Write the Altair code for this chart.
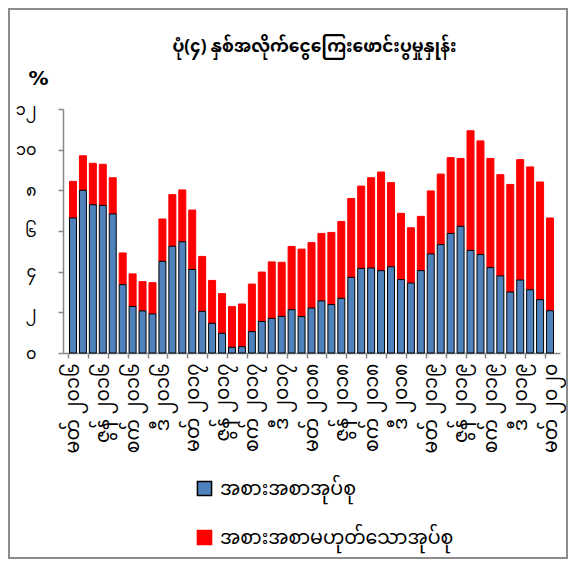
import altair as alt
import pandas as pd

# ---- data ----
months = ["မတ်", "ဇွန်", "စက်", "ဒီ"]
years = ["၂၀၁၆", "၂၀၁၇", "၂၀၁၈", "၂၀၁၉", "၂၀၂၀"]

# headline (top of red bar) and food contribution (top of blue bar), Mar 2016 .. Mar 2020
headline = [8.44, 9.70, 9.33, 9.28, 8.62, 4.92, 3.89, 3.51, 3.46, 6.59,
            7.79, 8.02, 7.03, 4.75, 3.57, 2.92, 2.28, 2.41, 3.39, 3.98,
            4.48, 4.46, 5.24, 5.11, 5.43, 5.88, 5.93, 6.47, 7.60, 8.21,
            8.62, 8.90, 8.38, 6.87, 6.16, 6.72, 7.97, 8.80, 9.61, 9.57,
            10.93, 10.43, 9.57, 8.77, 8.29, 9.51, 9.15, 8.41, 6.64]
food = [6.64, 8.00, 7.29, 7.26, 6.84, 3.36, 2.29, 2.07, 1.92, 4.51,
        5.25, 5.47, 4.11, 2.05, 1.46, 0.97, 0.28, 0.31, 1.05, 1.55,
        1.70, 1.80, 2.13, 1.79, 2.21, 2.56, 2.38, 2.69, 3.72, 4.16,
        4.18, 4.05, 4.24, 3.61, 3.44, 4.05, 4.87, 5.33, 5.88, 6.23,
        5.05, 4.84, 4.20, 3.79, 3.00, 3.59, 3.11, 2.62, 2.08]

series_names = ["အစားအစာအုပ်စု", "အစားအစာမဟုတ်သောအုပ်စု"]
y_ticks = [0, 2, 4, 6, 8, 10, 12]
y_tick_labels = ["၀", "၂", "၄", "၆", "၈", "၁၀", "၁၂"]

title_text = "ပုံ(၄) နှစ်အလိုက်ငွေကြေးဖောင်းပွမှုနှုန်း"

FONT = "Noto Sans Myanmar, Padauk, Myanmar Text, Noto Sans, DejaVu Sans"

# ---- build table ----
n = len(headline)
rows = []
for i in range(n):
    rows.append({"idx": i, "series": series_names[1], "y0": food[i], "y1": headline[i]})
for i in range(n):
    rows.append({"idx": i, "series": series_names[0], "y0": 0.0, "y1": food[i]})
df = pd.DataFrame(rows)

# x label positions every 3 months
label_pos = list(range(0, n, 3))
label_text = []
for k, p in enumerate(label_pos):
    label_text.append(months[k % 4] + " " + years[k // 4])

def ternary(pairs, default="''"):
    expr = default
    for v, t in reversed(pairs):
        expr = f"datum.value == {v} ? '{t}' : " + expr
    return expr

x_label_expr = ternary(list(zip(label_pos, label_text)))
y_label_expr = ternary(list(zip(y_ticks, y_tick_labels)))
tick_pos = [p - 0.5 for p in range(0, n, 2)]

W, H = 497, 244
x_scale = alt.Scale(domain=[-0.5, n - 0.5], nice=False, zero=False)
y_scale = alt.Scale(domain=[0, 12], nice=False)

bars = alt.Chart(df).mark_bar(size=7, strokeWidth=1).encode(
    x=alt.X("idx:Q", scale=x_scale,
            axis=alt.Axis(orient="bottom", values=tick_pos, labels=False, title=None,
                          ticks=True, tickSize=5, tickColor="#888888", tickWidth=1.5,
                          domainColor="#888888", domainWidth=1.5, grid=False)),
    y=alt.Y("y1:Q", scale=y_scale,
            axis=alt.Axis(values=y_ticks, labelExpr=y_label_expr, title="%",
                          titleAngle=0, titleX=-25, titleY=-31, titleAlign="center",
                          titleBaseline="middle", titleFontSize=20, titleFontWeight="bold",
                          titleFont="DejaVu Sans", labelFont=FONT, labelFontSize=16,
                          labelColor="#000000", labelPadding=22, tickSize=5,
                          tickColor="#888888", tickWidth=1.5, domainColor="#888888",
                          domainWidth=1.5, grid=False)),
    y2="y0:Q",
    fill=alt.Fill("series:N", scale=alt.Scale(domain=series_names, range=["#4F81BD", "#FF0000"]),
                  legend=alt.Legend(title=None, orient="none", legendX=132, legendY=370,
                                    symbolType="square", symbolSize=200, symbolStrokeWidth=1.5,
                                    rowPadding=28, labelFont=FONT, labelFontSize=19,
                                    labelColor="#000000", labelOffset=6, labelLimit=400)),
    stroke=alt.Stroke("series:N", scale=alt.Scale(domain=series_names, range=["#000000", "#FF0000"]),
                      legend=None),
)

labels_layer = alt.Chart(df).mark_point(opacity=0).encode(
    x=alt.X("idx:Q", scale=x_scale,
            axis=alt.Axis(orient="bottom", values=label_pos, labelExpr=x_label_expr,
                          labelAngle=-90, labelAlign="right", labelBaseline="middle",
                          labelPadding=10, ticks=False, domain=False, title=None,
                          labelFont=FONT, labelFontSize=19, labelColor="#000000",
                          labelOverlap=False, grid=False)),
)

frame = alt.Chart(pd.DataFrame({"a": [0]})).mark_rect(
    filled=False, stroke="#8c8c8c", strokeWidth=2
).encode(
    x=alt.value(-54), x2=alt.value(W + 7),
    y=alt.value(-100), y2=alt.value(H + 205),
)

title = alt.Chart(pd.DataFrame({"t": [title_text]})).mark_text(
    font=FONT, fontSize=17, fontWeight="bold", color="#000000",
    align="center", baseline="middle"
).encode(text="t:N", x=alt.value(W / 2 + 3), y=alt.value(-62))

chart = alt.layer(frame, bars, labels_layer, title).resolve_axis(x="independent").properties(
    width=W, height=H,
    autosize=alt.AutoSizeParams(type="none"),
    padding={"left": 55, "top": 101, "right": 8, "bottom": 206},
).configure_view(stroke=None)

chart.save("out.html", embed_options={"renderer": "svg", "actions": False})
